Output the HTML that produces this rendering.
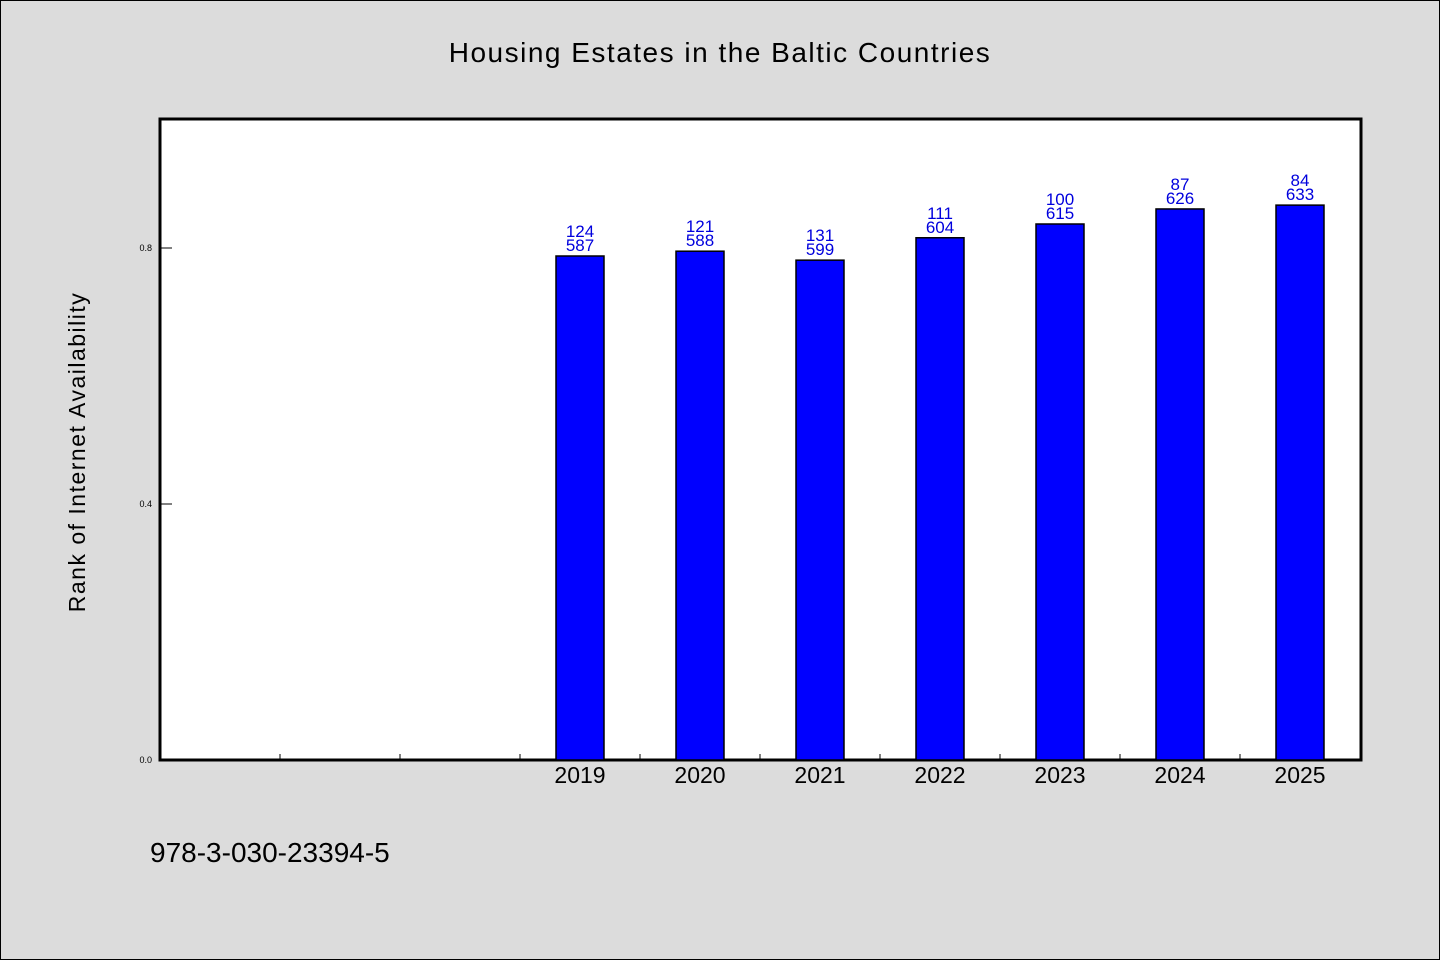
<!DOCTYPE html>
<html><head><meta charset="utf-8"><style>
html,body{margin:0;padding:0;background:#dcdcdc;}
svg{display:block;}
text{font-family:"WenQuanYi Zen Hei","Liberation Sans",sans-serif;}
</style></head><body>
<svg id="chart" width="1440" height="960" viewBox="0 0 1440 960">
<rect x="0.5" y="0.5" width="1439" height="959" fill="#dcdcdc" stroke="#000"/>
<text x="720" y="62" text-anchor="middle" font-size="28" letter-spacing="1.5">Housing Estates in the Baltic Countries</text>
<rect x="160" y="119" width="1201" height="641" fill="#fff" stroke="#000" stroke-width="3"/>
<text transform="translate(85,452) rotate(-90)" text-anchor="middle" font-size="23" letter-spacing="1.5">Rank of Internet Availability</text>
<text x="150" y="862" font-size="28">978-3-030-23394-5</text>
<g id="marks"></g>
</svg>
<script>
const categories = ["", "", "", "2019", "2020", "2021", "2022", "2023", "2024", "2025"];
const values = [null, null, null, 0.7875, 0.795, 0.781, 0.816, 0.8375, 0.861, 0.867];
const labelTop = ["", "", "", "124", "121", "131", "111", "100", "87", "84"];
const labelBottom = ["", "", "", "587", "588", "599", "604", "615", "626", "633"];
const yTicks = [0.0, 0.4, 0.8];
const yTickLabels = ["0.0", "0.4", "0.8"];

const NS = "http://www.w3.org/2000/svg";
const g = document.getElementById("marks");
const x0 = 160, x1 = 1360, y0 = 760, pxPerUnit = 640;
const slot = (x1 - x0) / categories.length;
const xc = i => x0 + slot * (i + 0.5);
const y = v => y0 - v * pxPerUnit;
function mk(tag, attrs) { const e = document.createElementNS(NS, tag); for (const k in attrs) e.setAttribute(k, attrs[k]); g.appendChild(e); return e; }

yTicks.forEach((t, i) => {
  const l = mk("line", {x1: x0, x2: x0 + 12, y1: y(t), y2: y(t), stroke: "#000", "stroke-width": 1});
  
  
  const tx = mk("text", {x: x0 - 8, y: y(t) + 3, "text-anchor": "end", "font-size": 9, "font-family": "Liberation Sans, sans-serif"});
  tx.textContent = yTickLabels[i];
  
  
});
for (let i = 1; i < categories.length; i++) {
  const l = mk("line", {x1: x0 + slot * i, x2: x0 + slot * i, y1: y0, y2: y0 - 6, stroke: "#000", "stroke-width": 1});
  
  
}
categories.forEach((c, i) => {
  if (values[i] == null) return;
  const bw = 48;
  const r = mk("rect", {x: xc(i) - bw / 2, y: y(values[i]), width: bw, height: y0 - y(values[i]), fill: "#0000ff", stroke: "#000", "stroke-width": 1.5});
  
  
  const t1 = mk("text", {x: xc(i), y: y(values[i]) - 19, "text-anchor": "middle", "font-size": 17, fill: "#0000dd"});
  t1.textContent = labelTop[i];
  
  
  const t2 = mk("text", {x: xc(i), y: y(values[i]) - 5, "text-anchor": "middle", "font-size": 17, fill: "#0000dd"});
  t2.textContent = labelBottom[i];
  
  
  const xl = mk("text", {x: xc(i), y: 783, "text-anchor": "middle", "font-size": 23});
  xl.textContent = c;
  
  
});
</script>
</body></html>
